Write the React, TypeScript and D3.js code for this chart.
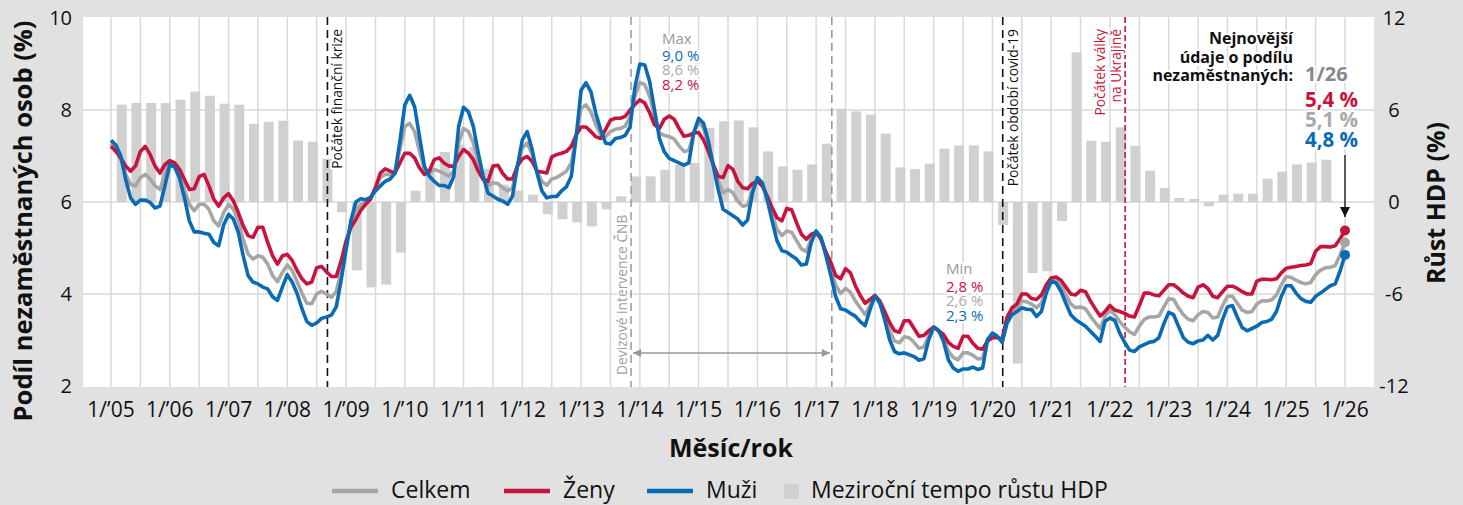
import * as d3 from 'd3';
import React from 'react';

const W = 1463;
const H = 505;
const FONT = '"Open Sans", sans-serif';

const GRAY = '#a6a6a6';
const RED = '#c8133d';
const BLUE = '#0a6bb4';
const BAR = '#d0d0d0';
const GRID = '#d9d9d9';
const BG = '#e1e1e1';

// monthly values, index 0 = 1/2005 ... index 252 = 1/2026
const celkem = [
  7.28, 7.14, 6.92, 6.6, 6.38, 6.35, 6.53, 6.6, 6.5, 6.35, 6.27, 6.6,
  6.86, 6.81, 6.63, 6.27, 5.95, 5.81, 5.95, 5.95, 5.84, 5.59, 5.48, 5.77,
  5.95, 5.84, 5.59, 5.19, 4.87, 4.76, 4.83, 4.8, 4.65, 4.4, 4.27, 4.47,
  4.63, 4.51, 4.27, 4.01, 3.8, 3.79, 4.0, 4.06, 4.0, 3.93, 4.05, 4.5,
  5.05, 5.52, 5.8, 5.93, 6.02, 6.09, 6.31, 6.53, 6.6, 6.6, 6.63, 7.14,
  7.64, 7.71, 7.53, 7.1, 6.71, 6.63, 6.71, 6.67, 6.62, 6.56, 6.67, 7.28,
  7.6, 7.53, 7.28, 6.88, 6.53, 6.35, 6.42, 6.4, 6.31, 6.24, 6.31, 6.78,
  7.17, 7.28, 7.03, 6.67, 6.45, 6.36, 6.5, 6.53, 6.6, 6.67, 6.85, 7.42,
  8.04, 8.11, 7.96, 7.68, 7.46, 7.42, 7.53, 7.58, 7.6, 7.65, 7.85, 8.3,
  8.6, 8.55, 8.3, 7.85, 7.5, 7.45, 7.42, 7.37, 7.22, 7.1, 7.12, 7.5,
  7.75, 7.6, 7.24, 6.81, 6.45, 6.2, 6.27, 6.2, 6.02, 5.91, 5.93, 6.27,
  6.49, 6.38, 6.09, 5.73, 5.41, 5.27, 5.37, 5.34, 5.16, 4.98, 4.92, 5.21,
  5.35, 5.21, 4.87, 4.55, 4.19, 4.01, 4.12, 4.04, 3.85, 3.7, 3.55, 3.76,
  3.97, 3.83, 3.53, 3.2, 2.98, 2.94, 3.07, 3.05, 2.95, 2.82, 2.85, 3.1,
  3.28, 3.2, 3.04, 2.76, 2.62, 2.57, 2.72, 2.72, 2.67, 2.59, 2.6, 3.0,
  3.1, 3.07, 2.99, 3.44, 3.62, 3.7, 3.85, 3.83, 3.78, 3.7, 3.8, 4.1,
  4.3, 4.3, 4.18, 3.98, 3.78, 3.7, 3.72, 3.68, 3.52, 3.38, 3.25, 3.52,
  3.65, 3.55, 3.4, 3.28, 3.18, 3.12, 3.3, 3.45, 3.5, 3.5, 3.52, 3.72,
  3.9, 3.88, 3.7, 3.55, 3.45, 3.42, 3.55, 3.62, 3.6, 3.48, 3.5, 3.75,
  3.95, 3.95, 3.8, 3.65, 3.6, 3.62, 3.78, 3.85, 3.85, 3.87, 3.98, 4.2,
  4.38, 4.36, 4.3, 4.25, 4.22, 4.25, 4.42, 4.52, 4.57, 4.58, 4.62, 4.85,
  5.12,
];

const zeny = [
  7.21, 7.1, 6.96, 6.78, 6.67, 6.78, 7.1, 7.21, 7.03, 6.78, 6.63, 6.81,
  6.9, 6.85, 6.71, 6.49, 6.27, 6.29, 6.55, 6.6, 6.35, 6.06, 5.91, 6.09,
  6.18, 6.02, 5.77, 5.48, 5.27, 5.23, 5.45, 5.45, 5.12, 4.83, 4.65, 4.83,
  4.86, 4.73, 4.51, 4.33, 4.22, 4.26, 4.57, 4.6, 4.48, 4.38, 4.38, 4.72,
  5.15, 5.45, 5.62, 5.82, 5.95, 6.06, 6.31, 6.63, 6.72, 6.67, 6.63, 6.85,
  7.06, 7.06, 6.96, 6.74, 6.6, 6.67, 6.92, 6.96, 6.85, 6.78, 6.78, 6.99,
  7.14, 7.06, 6.92, 6.67, 6.49, 6.45, 6.78, 6.8, 6.62, 6.5, 6.5, 6.78,
  6.94, 6.99, 6.88, 6.67, 6.65, 6.63, 6.98, 7.03, 7.06, 7.1, 7.21, 7.46,
  7.63, 7.63, 7.53, 7.42, 7.38, 7.58, 7.78, 7.82, 7.82, 7.86, 8.0, 8.12,
  8.22, 8.15, 7.94, 7.68, 7.6, 7.8, 7.87, 7.8, 7.6, 7.43, 7.45, 7.5,
  7.51, 7.35, 7.1, 6.81, 6.56, 6.53, 6.79, 6.71, 6.45, 6.31, 6.29, 6.4,
  6.45, 6.35, 6.13, 5.88, 5.66, 5.59, 5.86, 5.83, 5.55, 5.3, 5.19, 5.3,
  5.34, 5.19, 4.91, 4.69, 4.4, 4.33, 4.55, 4.46, 4.18, 3.97, 3.8, 3.88,
  3.97, 3.85, 3.62, 3.38, 3.2, 3.17, 3.42, 3.42, 3.25, 3.08, 3.1, 3.2,
  3.28, 3.2, 3.12, 2.95, 2.86, 2.82, 3.08, 3.08, 2.93, 2.82, 2.8, 2.98,
  3.05, 3.05, 3.02, 3.5, 3.7, 3.78, 4.0, 4.0, 3.9, 3.88, 3.98, 4.2,
  4.35, 4.37, 4.3, 4.15, 4.0, 3.98, 4.08, 4.05, 3.85, 3.68, 3.52, 3.62,
  3.75, 3.65, 3.62, 3.58, 3.52, 3.5, 3.75, 4.02, 4.02, 3.98, 3.96, 4.08,
  4.2, 4.2, 4.12, 4.02, 3.95, 3.92, 4.15, 4.2, 4.12, 3.95, 3.92, 4.05,
  4.17, 4.17, 4.12, 4.05, 4.0, 4.0, 4.28, 4.32, 4.32, 4.31, 4.33, 4.46,
  4.56, 4.58, 4.6, 4.62, 4.63, 4.66, 4.93, 5.03, 5.03, 5.02, 5.05, 5.2,
  5.38,
];

const muzi = [
  7.34, 7.24, 7.0, 6.49, 6.09, 5.95, 6.04, 6.04, 5.99, 5.87, 5.91, 6.35,
  6.81, 6.76, 6.52, 6.09, 5.59, 5.35, 5.35, 5.32, 5.3, 5.12, 5.05, 5.5,
  5.73, 5.63, 5.34, 4.83, 4.4, 4.26, 4.22, 4.15, 4.11, 3.94, 3.86, 4.15,
  4.42, 4.26, 4.01, 3.68, 3.4, 3.32, 3.37, 3.47, 3.5, 3.54, 3.72, 4.3,
  4.96, 5.6, 6.0, 6.07, 6.05, 6.1, 6.24, 6.35, 6.45, 6.5, 6.63, 7.32,
  8.11, 8.32, 8.07, 7.42, 6.78, 6.56, 6.45, 6.36, 6.36, 6.31, 6.56, 7.64,
  8.06, 7.96, 7.64, 7.06, 6.56, 6.19, 6.13, 6.06, 6.02, 5.95, 6.13, 6.78,
  7.35, 7.53, 7.14, 6.63, 6.24, 6.09, 6.12, 6.12, 6.24, 6.33, 6.56, 7.42,
  8.43, 8.59, 8.4, 7.93, 7.57, 7.28, 7.26, 7.38, 7.4, 7.45, 7.63, 8.5,
  9.0, 8.98, 8.62, 8.0, 7.38, 7.09, 6.95, 6.9, 6.85, 6.8, 6.85, 7.5,
  7.82, 7.71, 7.32, 6.78, 6.27, 5.84, 5.77, 5.7, 5.63, 5.5, 5.61, 6.2,
  6.53, 6.42, 6.06, 5.59, 5.16, 4.94, 4.91, 4.83, 4.76, 4.63, 4.65, 5.12,
  5.37, 5.23, 4.83, 4.4, 3.94, 3.68, 3.65, 3.58, 3.52, 3.4, 3.31, 3.66,
  3.96, 3.8, 3.44, 3.01, 2.75, 2.7, 2.72, 2.68, 2.64, 2.56, 2.59, 3.01,
  3.28, 3.21, 2.97, 2.57, 2.39, 2.32, 2.37, 2.37, 2.41, 2.36, 2.39, 3.01,
  3.15, 3.08, 2.95, 3.37, 3.55, 3.62, 3.7, 3.67, 3.66, 3.51, 3.62, 4.02,
  4.28, 4.24, 4.06, 3.8, 3.55, 3.44, 3.37, 3.3, 3.19, 3.08, 2.97, 3.41,
  3.48, 3.42, 3.15, 2.95, 2.78, 2.75, 2.85, 2.9, 2.95, 2.97, 3.05, 3.35,
  3.6, 3.55, 3.3, 3.05, 2.95, 2.92, 2.98, 3.0, 3.1, 3.0, 3.1, 3.45,
  3.72, 3.75, 3.5, 3.27, 3.2, 3.25, 3.3, 3.38, 3.4, 3.45, 3.62, 3.95,
  4.18, 4.18, 4.02, 3.9, 3.84, 3.82, 3.95, 4.02, 4.1, 4.18, 4.22, 4.5,
  4.85,
];

// meziroční tempo růstu HDP, čtvrtletně 2005Q1 ... 2025Q3
const hdp = [
  6.35, 6.46, 6.46, 6.46,
  6.67, 7.2, 6.93, 6.41,
  6.35, 5.1, 5.23, 5.3,
  4.0, 3.93, 2.82, -0.67,
  -4.46, -5.57, -5.39, -3.29,
  0.74, 2.17, 3.26, 3.74,
  3.6, 2.17, 1.13, 0.74,
  0.48, -0.8, -1.13, -1.33,
  -1.59, -0.48, 0.37, 1.67,
  1.67, 2.1, 2.43, 2.54,
  4.83, 5.26, 5.32, 4.87,
  3.3, 2.32, 2.1, 2.45,
  3.8, 6.09, 5.91, 5.7,
  4.46, 2.26, 2.15, 2.5,
  3.48, 3.69, 3.69, 3.3,
  -1.5, -10.54, -4.63, -4.52,
  -1.24, 9.76, 4.0, 3.93,
  4.87, 3.67, 2.04, 0.91,
  0.26, 0.2, -0.28, 0.48,
  0.54, 0.54, 1.52, 1.98,
  2.45, 2.58, 2.76,
];

const yearLabels = d3.range(2005, 2027).map((y) => `1/’${String(y % 100).padStart(2, '0')}`);
const leftTicks = [2, 4, 6, 8, 10];
const rightTicks = [-12, -6, 0, 6, 12];

const maxLabels = ['9,0 %', '8,6 %', '8,2 %'];
const minLabels = ['2,8 %', '2,6 %', '2,3 %'];
const lastLabels = ['5,4 %', '5,1 %', '4,8 %'];
const latestTitle = ['Nejnovější', 'údaje o podílu', 'nezaměstnaných:'];

// events: month offset from 1/2005
const mo = (year: number, month: number) => (year - 2005) * 12 + month;
const events = [
  { m: mo(2008, 8.2), color: '#111', dash: '8,5', lines: ['Počátek finanční krize'], dx: [14.5], top: true },
  { m: mo(2013, 10.2), color: '#a0a0a0', dash: '8,5', lines: ['Devizové intervence ČNB'], dx: [-4.5], top: false },
  { m: mo(2017, 3.2), color: '#9a9a9a', dash: '8,5', lines: [], dx: [], top: true },
  { m: mo(2020, 2.1), color: '#111', dash: '8,5', lines: ['Počátek období covid-19'], dx: [15.5], top: true },
  { m: mo(2022, 3.1), color: RED, dash: '6,3', lines: ['Počátek války', 'na Ukrajině'], dx: [-20, -4.5], top: true },
];

const legend = [
  { label: 'Celkem', color: GRAY, type: 'line', x: 332 },
  { label: 'Ženy', color: RED, type: 'line', x: 504 },
  { label: 'Muži', color: BLUE, type: 'line', x: 647 },
  { label: 'Meziroční tempo růstu HDP', color: BAR, type: 'box', x: 784 },
];

const plot = { left: 83, right: 1374, top: 17, bottom: 387 };

export default function App() {
  const x = d3.scaleLinear().domain([0, 252]).range([111, 1345]);
  const y = d3.scaleLinear().domain([2, 10]).range([386, 18]);
  const yR = d3.scaleLinear().domain([-12, 12]).range([386, 18]);

  const line = d3
    .line<number>()
    .x((_, i) => x(i))
    .y((d) => y(d));

  const gridMonths = d3.range(0, 253, 6);
  const last = celkem.length - 1;
  const xl = x(last);
  const halo = { stroke: '#fff', strokeWidth: 4, paintOrder: 'stroke' as const, strokeLinejoin: 'round' as const };

  return (
    <div style={{ position: 'fixed', left: 0, top: 0 }}>
      <svg width={W} height={H} style={{ display: 'block', fontFamily: FONT }}>
        <defs>
          <marker id="ah" viewBox="0 0 10 10" refX="10" refY="5" markerWidth="10" markerHeight="8" markerUnits="userSpaceOnUse" orient="auto-start-reverse">
            <path d="M0,0 L10,5 L0,10 z" fill="#999" />
          </marker>
          <marker id="ahb" viewBox="0 0 10 10" refX="10" refY="5" markerWidth="17" markerHeight="10" markerUnits="userSpaceOnUse" orient="auto">
            <path d="M0,0 L10,5 L0,10 z" fill="#111" />
          </marker>
        </defs>
        <rect x={0} y={0} width={W} height={H} fill={BG} />
        <rect x={plot.left} y={plot.top} width={plot.right - plot.left} height={plot.bottom - plot.top} fill="#fff" />

        {/* grid */}
        {gridMonths.map((m) => (
          <line key={'gx' + m} x1={x(m)} x2={x(m)} y1={plot.top} y2={plot.bottom} stroke={GRID} strokeWidth={1.5} />
        ))}
        {leftTicks.slice(1, -1).map((t) => (
          <line key={'gy' + t} x1={plot.left} x2={plot.right} y1={y(t)} y2={y(t)} stroke={GRID} strokeWidth={1.5} />
        ))}

        {/* GDP bars */}
        {hdp.map((v, i) => {
          const cx = x(i * 3 + 2.2);
          return (
            <rect
              key={'b' + i}
              x={cx - 5}
              width={10}
              y={Math.min(yR(v), yR(0))}
              height={Math.abs(yR(v) - yR(0))}
              fill={BAR}
            />
          );
        })}

        {/* event lines */}
        {events.map((e, i) => (
          <line key={'e' + i} x1={x(e.m)} x2={x(e.m)} y1={plot.top} y2={plot.bottom} stroke={e.color} strokeWidth={1.6} strokeDasharray={e.dash} />
        ))}
        <line
          x1={x(events[1].m) + 2}
          x2={x(events[2].m) - 2}
          y1={353}
          y2={353}
          stroke="#999"
          strokeWidth={1.5}
          markerStart="url(#ah)"
          markerEnd="url(#ah)"
        />

        {/* series */}
        {[
          { d: celkem, c: GRAY },
          { d: zeny, c: RED },
          { d: muzi, c: BLUE },
        ].map((s, i) => (
          <path key={'s' + i} d={line(s.d) || ''} fill="none" stroke={s.c} strokeWidth={3.6} strokeLinejoin="round" />
        ))}
        <circle cx={xl} cy={y(zeny[last])} r={5} fill={RED} />
        <circle cx={xl} cy={y(celkem[last])} r={5} fill={GRAY} />
        <circle cx={xl} cy={y(muzi[last])} r={5} fill={BLUE} />

        {/* event labels */}
        {events.map((e, i) =>
          e.lines.map((t, j) => (
            <text
              key={'el' + i + '-' + j}
              transform={`translate(${x(e.m) + e.dx[j]},${e.top ? 29 : 375}) rotate(-90)`}
              textAnchor={e.top ? 'end' : 'start'}
              fontSize={13.8}
              fill={e.color}
              {...halo}
            >
              {t}
            </text>
          )),
        )}

        {/* max / min */}
        <text x={662} y={43.5} fontSize={15} {...halo}>
          <tspan x={662} fill="#999">Max</tspan>
          <tspan x={662} dy={17} fill={BLUE}>{maxLabels[0]}</tspan>
          <tspan x={662} dy={14.5} fill="#aaa">{maxLabels[1]}</tspan>
          <tspan x={662} dy={14.5} fill={RED}>{maxLabels[2]}</tspan>
        </text>
        <text x={946} y={274} fontSize={15} {...halo}>
          <tspan x={946} fill="#999">Min</tspan>
          <tspan x={946} dy={18} fill={RED}>{minLabels[0]}</tspan>
          <tspan x={946} dy={14.2} fill="#aaa">{minLabels[1]}</tspan>
          <tspan x={946} dy={14.5} fill={BLUE}>{minLabels[2]}</tspan>
        </text>

        {/* latest values */}
        <text x={1293} y={44} fontSize={16} fontWeight={700} textAnchor="end" fill="#111" {...halo}>
          {latestTitle.map((t, i) => (
            <tspan key={t} x={1293} dy={i === 0 ? 0 : 18.5}>
              {t}
            </tspan>
          ))}
        </text>
        <text x={1305} y={81} fontSize={20} fontWeight={700} fill="#888" {...halo}>
          1/26
        </text>
        <text x={1358} y={107} fontSize={20.5} fontWeight={700} textAnchor="end" {...halo}>
          {lastLabels.map((t, i) => (
            <tspan key={t} x={1358} dy={i === 0 ? 0 : 20} fill={[RED, '#aaa', BLUE][i]}>
              {t}
            </tspan>
          ))}
        </text>
        <line x1={xl} x2={xl} y1={155} y2={217} stroke="#111" strokeWidth={1.3} markerEnd="url(#ahb)" />

        {/* axes labels */}
        {leftTicks.map((t) => (
          <text key={'lt' + t} x={72} y={y(t) + 7} textAnchor="end" fontSize={20} fill="#111">
            {t}
          </text>
        ))}
        {rightTicks.map((t) => (
          <text key={'rt' + t} x={1394} y={yR(t) + 7} textAnchor="middle" fontSize={20} fill="#111">
            {t}
          </text>
        ))}
        {yearLabels.map((l, i) => (
          <text key={'yl' + i} x={x(i * 12)} y={417} textAnchor="middle" fontSize={21} fill="#111">
            {l}
          </text>
        ))}

        <text transform="translate(32,221) rotate(-90)" textAnchor="middle" fontSize={25.5} fontWeight={700} fill="#111">
          Podíl nezaměstnaných osob (%)
        </text>
        <text transform="translate(1445,203) rotate(-90)" textAnchor="middle" fontSize={25} fontWeight={700} fill="#111">
          Růst HDP (%)
        </text>
        <text x={731} y={457} textAnchor="middle" fontSize={25} fontWeight={700} fill="#111">
          Měsíc/rok
        </text>

        {/* legend */}
        {legend.map((l) => (
          <g key={l.label}>
            {l.type === 'line' ? (
              <line x1={l.x} x2={l.x + 46} y1={491} y2={491} stroke={l.color} strokeWidth={4.5} />
            ) : (
              <rect x={l.x} y={484} width={15} height={15} fill={l.color} />
            )}
            <text x={l.type === 'line' ? l.x + 59 : l.x + 27} y={497.5} fontSize={23} fill="#111">
              {l.label}
            </text>
          </g>
        ))}
      </svg>
    </div>
  );
}
